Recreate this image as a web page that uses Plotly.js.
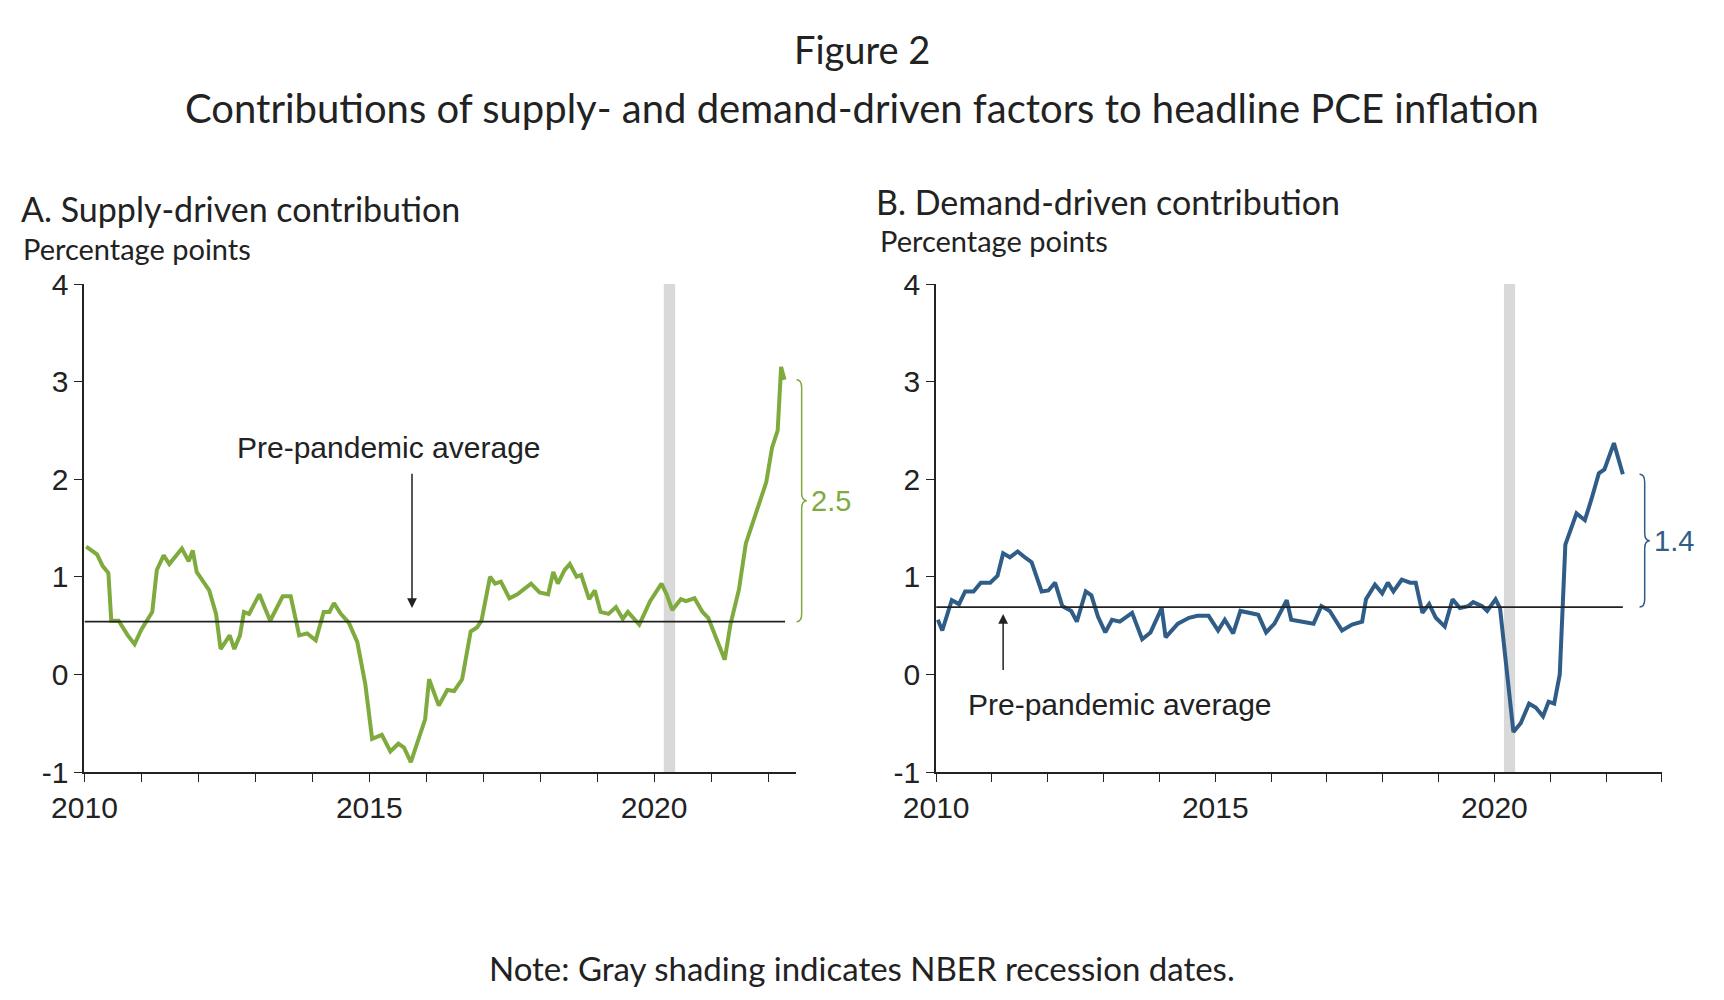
<!DOCTYPE html>
<html>
<head>
<meta charset="utf-8">
<script src="https://cdn.plot.ly/plotly-3.0.1.min.js"></script>
<style>body{margin:0;background:#fff}#plot{width:1724px;height:1000px}</style>
</head>
<body>
<div id="plot"></div>
<script>
// supply-driven contribution (panel A)
const supplyX = [2010.03,2010.22,2010.32,2010.42,2010.47,2010.6,2010.76,2010.88,2011.0,2011.19,2011.27,2011.39,2011.49,2011.71,2011.83,2011.9,2011.97,2012.19,2012.31,2012.39,2012.55,2012.63,2012.73,2012.8,2012.89,2013.07,2013.26,2013.48,2013.62,2013.77,2013.91,2014.06,2014.2,2014.3,2014.38,2014.5,2014.64,2014.79,2014.93,2015.05,2015.22,2015.37,2015.51,2015.61,2015.73,2015.85,2015.98,2016.05,2016.22,2016.37,2016.49,2016.63,2016.78,2016.89,2016.97,2017.12,2017.21,2017.31,2017.46,2017.6,2017.7,2017.84,2017.99,2018.14,2018.23,2018.31,2018.43,2018.52,2018.64,2018.72,2018.86,2018.96,2019.06,2019.2,2019.33,2019.45,2019.54,2019.74,2019.93,2020.13,2020.22,2020.32,2020.47,2020.56,2020.71,2020.85,2020.95,2021.1,2021.24,2021.34,2021.49,2021.61,2021.78,2021.97,2022.07,2022.17,2022.23,2022.29];
const supplyY = [1.31,1.23,1.11,1.04,0.55,0.55,0.4,0.31,0.46,0.64,1.07,1.22,1.13,1.29,1.16,1.27,1.05,0.86,0.62,0.26,0.4,0.26,0.4,0.64,0.62,0.82,0.55,0.8,0.8,0.4,0.42,0.35,0.64,0.64,0.73,0.62,0.53,0.33,-0.1,-0.66,-0.62,-0.79,-0.71,-0.75,-0.9,-0.7,-0.46,-0.05,-0.32,-0.16,-0.17,-0.05,0.44,0.48,0.55,1.0,0.93,0.95,0.78,0.82,0.87,0.93,0.84,0.82,1.05,0.93,1.07,1.13,1.0,1.02,0.77,0.86,0.64,0.62,0.69,0.57,0.64,0.51,0.75,0.93,0.82,0.66,0.77,0.75,0.78,0.64,0.58,0.37,0.15,0.51,0.87,1.34,1.63,1.97,2.32,2.5,3.15,3.02];
// demand-driven contribution (panel B)
const demandX = [2010.03,2010.11,2010.28,2010.41,2010.52,2010.67,2010.8,2010.97,2011.1,2011.2,2011.32,2011.46,2011.61,2011.71,2011.89,2012.01,2012.13,2012.26,2012.42,2012.52,2012.68,2012.78,2012.9,2013.03,2013.15,2013.29,2013.51,2013.69,2013.84,2014.04,2014.11,2014.33,2014.53,2014.68,2014.88,2015.05,2015.17,2015.32,2015.45,2015.62,2015.77,2015.91,2016.06,2016.28,2016.36,2016.56,2016.76,2016.9,2017.05,2017.27,2017.45,2017.63,2017.7,2017.86,2017.99,2018.09,2018.19,2018.34,2018.49,2018.59,2018.71,2018.83,2018.95,2019.11,2019.25,2019.38,2019.53,2019.62,2019.78,2019.87,2020.02,2020.1,2020.22,2020.34,2020.47,2020.62,2020.74,2020.87,2020.97,2021.07,2021.17,2021.27,2021.47,2021.62,2021.74,2021.87,2021.97,2022.14,2022.3];
const demandY = [0.56,0.45,0.76,0.72,0.85,0.85,0.94,0.94,1.01,1.24,1.2,1.26,1.19,1.15,0.85,0.86,0.94,0.7,0.65,0.54,0.85,0.81,0.59,0.43,0.56,0.54,0.63,0.36,0.43,0.68,0.38,0.52,0.58,0.6,0.6,0.45,0.56,0.42,0.65,0.63,0.61,0.43,0.52,0.76,0.56,0.54,0.52,0.7,0.65,0.45,0.51,0.54,0.77,0.92,0.83,0.94,0.85,0.97,0.94,0.94,0.63,0.72,0.58,0.49,0.77,0.68,0.7,0.74,0.7,0.65,0.77,0.68,0.0,-0.59,-0.5,-0.3,-0.34,-0.43,-0.28,-0.3,0.0,1.33,1.65,1.58,1.8,2.06,2.1,2.37,2.05];
const supplyAvg = 0.54;
const demandAvg = 0.69;
const recession = [2020.17, 2020.37];
const yearTicks = [2010,2011,2012,2013,2014,2015,2016,2017,2018,2019,2020,2021,2022,2023];
const yearLabels = yearTicks.map(y => (y % 5 === 0 ? String(y) : ''));
const yTicks = [-1, 0, 1, 2, 3, 4];
const yLabels = ['-1', '0', '1', '2', '3', '4'];

const green = '#7fab3e';
const blue = '#2f5d88';
const head = 'Lato, "Open Sans", sans-serif';
const tickFont = {family: '"Liberation Sans", Arial, sans-serif', size: 30, color: '#222'};

const traces = [
  {x: supplyX, y: supplyY, xaxis: 'x', yaxis: 'y', mode: 'lines', line: {color: green, width: 4}},
  {x: demandX, y: demandY, xaxis: 'x2', yaxis: 'y2', mode: 'lines', line: {color: blue, width: 4}},
];

function xax(domain, range) {
  return {
    domain: domain, range: range, showgrid: false, zeroline: false,
    showline: true, linecolor: '#222', linewidth: 2,
    ticks: 'outside', ticklen: 8, tickcolor: '#222',
    tickvals: yearTicks, ticktext: yearLabels, tickfont: tickFont,
  };
}
function yax(anchor) {
  return {
    domain: [0.228, 0.716], range: [-1, 4], anchor: anchor, showgrid: false, zeroline: false,
    showline: true, linecolor: '#222', linewidth: 2,
    ticks: 'outside', ticklen: 8, tickcolor: '#222',
    tickvals: yTicks, ticktext: yLabels, tickfont: tickFont,
  };
}

function brace(x0, yBot, yTop, color) {
  const x1 = x0 + 0.003, x2 = x0 + 0.006, d = 0.08, m = (yBot + yTop) / 2;
  return {
    type: 'path', xref: 'paper', yref: color === green ? 'y' : 'y2',
    path: `M ${x0},${yTop} Q ${x1},${yTop} ${x1},${yTop - d} L ${x1},${m + d} Q ${x1},${m} ${x2},${m} ` +
          `Q ${x1},${m} ${x1},${m - d} L ${x1},${yBot + d} Q ${x1},${yBot} ${x0},${yBot}`,
    line: {color: color, width: 1.5},
  };
}

function label(text, x, y, size, anchor) {
  return {text: text, xref: 'paper', yref: 'paper', x: x, y: y, xanchor: anchor || 'center', yanchor: 'middle',
          showarrow: false, font: {family: head, size: size, color: '#222'}};
}

const layout = {
  width: 1724, height: 1000, showlegend: false,
  paper_bgcolor: '#fff', plot_bgcolor: '#fff',
  margin: {l: 0, r: 0, t: 0, b: 0},
  xaxis: xax([0.049, 0.462], [2010, 2022.5]),
  yaxis: yax('x'),
  xaxis2: xax([0.543, 0.964], [2010, 2023]),
  yaxis2: yax('x2'),
  shapes: [
    {type: 'rect', xref: 'x', yref: 'y', x0: recession[0], x1: recession[1], y0: -1, y1: 4, fillcolor: '#d9d9d9', line: {width: 0}, layer: 'below'},
    {type: 'rect', xref: 'x2', yref: 'y2', x0: recession[0], x1: recession[1], y0: -1, y1: 4, fillcolor: '#d9d9d9', line: {width: 0}, layer: 'below'},
    {type: 'line', xref: 'x', yref: 'y', x0: 2010, x1: 2022.3, y0: supplyAvg, y1: supplyAvg, line: {color: '#222', width: 1.8}},
    {type: 'line', xref: 'x2', yref: 'y2', x0: 2010, x1: 2022.3, y0: demandAvg, y1: demandAvg, line: {color: '#222', width: 1.8}},
    brace(0.462, supplyAvg, supplyY[supplyY.length - 1], green),
    brace(0.951, demandAvg, demandY[demandY.length - 1], blue),
  ],
  annotations: [
    label('Figure 2', 0.5, 0.951, 38),
    label('Contributions of supply- and demand-driven factors to headline PCE inflation', 0.5, 0.892, 40),
    label('A. Supply-driven contribution', 0.011, 0.791, 34, 'left'),
    label('Percentage points', 0.012, 0.752, 29, 'left'),
    label('B. Demand-driven contribution', 0.507, 0.798, 34, 'left'),
    label('Percentage points', 0.509, 0.760, 29, 'left'),
    label('Note: Gray shading indicates NBER recession dates.', 0.5, 0.032, 33),
    {text: 'Pre-pandemic average', xref: 'x', yref: 'y', x: 2015.35, y: 2.32, showarrow: false, font: {family: tickFont.family, size: 30, color: '#222'}},
    {text: '', xref: 'x', yref: 'y', x: 2015.75, y: 0.68, ax: 2015.75, ay: 2.07, axref: 'x', ayref: 'y', showarrow: true, arrowhead: 2, arrowsize: 1.3, arrowwidth: 1.5, arrowcolor: '#222'},
    {text: 'Pre-pandemic average', xref: 'x2', yref: 'y2', x: 2013.3, y: -0.31, showarrow: false, font: {family: tickFont.family, size: 30, color: '#222'}},
    {text: '', xref: 'x2', yref: 'y2', x: 2011.2, y: 0.62, ax: 2011.2, ay: 0.03, axref: 'x2', ayref: 'y2', showarrow: true, arrowhead: 2, arrowsize: 1.3, arrowwidth: 1.5, arrowcolor: '#222'},
    {text: '2.5', xref: 'paper', yref: 'y', x: 0.469, y: (supplyAvg + supplyY[supplyY.length - 1]) / 2, xanchor: 'left', showarrow: false, font: {family: tickFont.family, size: 29, color: green}},
    {text: '1.4', xref: 'paper', yref: 'y2', x: 0.958, y: (demandAvg + demandY[demandY.length - 1]) / 2, xanchor: 'left', showarrow: false, font: {family: tickFont.family, size: 29, color: blue}},
  ],
};

Plotly.newPlot('plot', traces, layout, {displayModeBar: false, staticPlot: true});
</script>
</body>
</html>
